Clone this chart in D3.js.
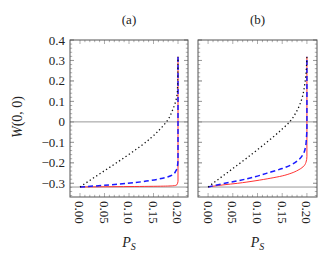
<!DOCTYPE html>
<html>
<head>
<meta charset="utf-8">
<script src="https://cdn.jsdelivr.net/npm/d3@7"></script>
<style>
  body { margin: 0; background: #fff; }
  text { font-family: "Liberation Serif", "DejaVu Serif", "Times New Roman", serif; fill: #222; }
</style>
</head>
<body>
<svg id="chart" width="331" height="261"></svg>
<script>
'use strict'

// ------------------------------------------------------------ DATA -------
const panelTitles = ['(a)', '(b)']
const xTicks = [0, 0.05, 0.10, 0.15, 0.20]
const yTicks = [-0.3, -0.2, -0.1, 0, 0.1, 0.2, 0.3, 0.4]
const refLines = [0, -1/Math.PI]

// panel (a)
const dotA_P = [0, 0.03, 0.06, 0.09, 0.12, 0.145, 0.162, 0.179, 0.189, 0.196, 0.199, 0.2]
const dotA_W = [-0.318, -0.270, -0.223, -0.175, -0.125, -0.078, -0.039, 0.009, 0.058, 0.107, 0.16, 0.318]
const dashA_P = [0, 0.06, 0.128, 0.169, 0.189, 0.196, 0.199, 0.2, 0.2]
const dashA_W = [-0.318, -0.308, -0.292, -0.275, -0.259, -0.238, -0.215, -0.18, 0.318]
const redA_P = [0, 0.10, 0.17, 0.19, 0.197, 0.2, 0.2]
const redA_W = [-0.318, -0.316, -0.314, -0.312, -0.309, -0.29, 0.318]

// panel (b)
const dotB_P = [0, 0.03, 0.06, 0.09, 0.12, 0.15, 0.166, 0.18, 0.19, 0.196, 0.2]
const dotB_W = [-0.318, -0.264, -0.210, -0.155, -0.097, -0.035, 0.003, 0.055, 0.115, 0.19, 0.318]
const dashB_P = [0, 0.03, 0.06, 0.095, 0.127, 0.15, 0.168, 0.182, 0.192, 0.197, 0.199, 0.2, 0.2]
const dashB_W = [-0.318, -0.302, -0.288, -0.268, -0.245, -0.228, -0.210, -0.188, -0.16, -0.125, -0.08, -0.02, 0.318]
const redB_P = [0, 0.03, 0.06, 0.095, 0.127, 0.15, 0.168, 0.182, 0.192, 0.198, 0.2, 0.2]
const redB_W = [-0.318, -0.308, -0.300, -0.288, -0.275, -0.264, -0.251, -0.236, -0.22, -0.198, -0.17, 0.318]

function zip(ps, ws) { return ps.map((p, i) => ({p: p, w: ws[i]})) }

const panels = [
  { title: panelTitles[0], left: 70, right: 188, labels: true,
    red: zip(redA_P, redA_W), dash: zip(dashA_P, dashA_W), dot: zip(dotA_P, dotA_W) },
  { title: panelTitles[1], left: 198, right: 317, labels: false,
    red: zip(redB_P, redB_W), dash: zip(dashB_P, dashB_W), dot: zip(dotB_P, dotB_W) }
]

// ------------------------------------------------------- LAYOUT -------
const svg = d3.select('#chart')
const plotTop = 40, plotBottom = 197

let yScale = d3.scaleLinear().domain([-0.367, 0.4]).range([plotBottom, plotTop])

const fmtY = d => d === 0 ? '0' : d3.format('.1f')(d).replace('-', '\u2212')
const fmtX = d3.format('.2f')

// y label
svg.append('text')
  .attr('transform', 'translate(22,117) rotate(-90)')
  .attr('text-anchor', 'middle')
  .style('font-size', '14px')
  .html('<tspan font-style="italic">W</tspan>(0, 0)')

panels.forEach(pan => {
  let xScale = d3.scaleLinear().domain([-0.0204, 0.2204]).range([pan.left, pan.right])
  let g = svg.append('g')
  let cx = (pan.left + pan.right) / 2

  // title
  g.append('text').attr('x', cx).attr('y', 24)
    .attr('text-anchor', 'middle').style('font-size', '13px').text(pan.title)

  // reference lines
  g.selectAll('.ref').data(refLines).enter().append('line')
    .attr('x1', pan.left).attr('x2', pan.right)
    .attr('y1', d => yScale(d)).attr('y2', d => yScale(d))
    .attr('stroke', '#999').attr('stroke-width', 1)

  // minor / major ticks (inward) on all four sides
  let xMinor = d3.range(0, 0.2001, 0.01).map(v => +v.toFixed(2))
  let yMinor = d3.range(-0.36, 0.4001, 0.02).map(v => +v.toFixed(2))
  let tickG = g.append('g').attr('stroke', '#999').attr('stroke-width', 0.8)
  xMinor.forEach(v => {
    let len = xTicks.some(t => Math.abs(t - v) < 1e-6) ? 4 : 2.2
    let x = xScale(v)
    tickG.append('line').attr('x1', x).attr('x2', x).attr('y1', plotBottom).attr('y2', plotBottom - len)
    tickG.append('line').attr('x1', x).attr('x2', x).attr('y1', plotTop).attr('y2', plotTop + len)
  })
  yMinor.forEach(v => {
    let len = yTicks.some(t => Math.abs(t - v) < 1e-6) ? 4 : 2.2
    let y = yScale(v)
    tickG.append('line').attr('x1', pan.left).attr('x2', pan.left + len).attr('y1', y).attr('y2', y)
    tickG.append('line').attr('x1', pan.right).attr('x2', pan.right - len).attr('y1', y).attr('y2', y)
  })
  yTicks.forEach(v => {
    let y = yScale(v)
    tickG.append('line').attr('x1', pan.left).attr('x2', pan.left + 4).attr('y1', y).attr('y2', y)
    tickG.append('line').attr('x1', pan.right).attr('x2', pan.right - 4).attr('y1', y).attr('y2', y)
  })

  // y tick labels
  if (pan.labels) {
    g.selectAll('.ylab').data(yTicks).enter().append('text')
      .attr('x', pan.left - 5).attr('y', d => yScale(d))
      .attr('dy', '0.35em').attr('text-anchor', 'end')
      .style('font-size', '13px').text(fmtY)
  }

  // x tick labels, rotated
  g.selectAll('.xlab').data(xTicks).enter().append('text')
    .attr('transform', d => 'translate(' + xScale(d) + ',' + (plotBottom + 4) + ') rotate(90)')
    .attr('dy', '0.35em').attr('text-anchor', 'start')
    .style('font-size', '13px').text(fmtX)

  // x label
  g.append('text').attr('x', cx).attr('y', 247)
    .attr('text-anchor', 'middle').style('font-size', '14px')
    .html('<tspan font-style="italic">P</tspan><tspan font-style="italic" font-size="10px" dy="3">S</tspan>')

  // curves
  let line = d3.line()
    .x(d => xScale(d.p)).y(d => yScale(d.w))
    .curve(d3.curveMonotoneY)

  g.append('path').attr('d', line(pan.red))
    .attr('fill', 'none').attr('stroke', '#ff3333').attr('stroke-width', 1)
  g.append('path').attr('d', line(pan.dash))
    .attr('fill', 'none').attr('stroke', '#1a1aff').attr('stroke-width', 1.5)
    .attr('stroke-dasharray', '5,3')
  g.append('path').attr('d', line(pan.dot))
    .attr('fill', 'none').attr('stroke', '#111').attr('stroke-width', 1.3)
    .attr('stroke-dasharray', '1.3,2.6')

  // frame
  g.append('rect').attr('x', pan.left).attr('y', plotTop)
    .attr('width', pan.right - pan.left).attr('height', plotBottom - plotTop)
    .attr('fill', 'none').attr('stroke', '#555').attr('stroke-width', 1)
})
</script>
</body>
</html>
